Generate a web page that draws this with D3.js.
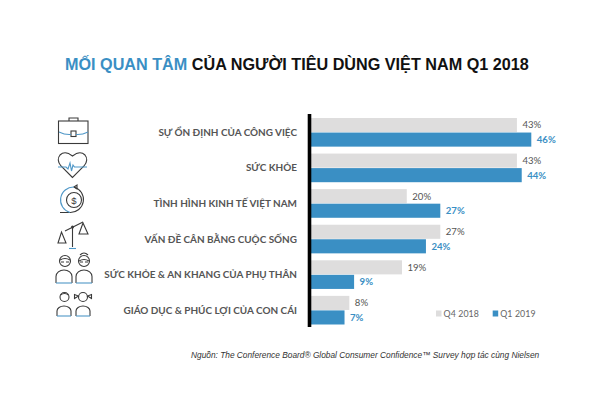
<!DOCTYPE html>
<html><head><meta charset="utf-8">
<script src="https://cdnjs.cloudflare.com/ajax/libs/d3/7.8.5/d3.min.js"></script>
<style>html,body{margin:0;background:#fff}svg{display:block}</style></head>
<body><svg id="c" width="600" height="400"></svg>
<script>
const categories=["SỰ ỔN ĐỊNH CỦA CÔNG VIỆC","SỨC KHỎE","TÌNH HÌNH KINH TẾ VIỆT NAM","VẤN ĐỀ CÂN BẰNG CUỘC SỐNG","SỨC KHỎE & AN KHANG CỦA PHỤ THÂN","GIÁO DỤC & PHÚC LỢI CỦA CON CÁI"];
const q4=[43,43,20,27,19,8];
const q1=[46,44,27,24,9,7];
const seriesNames=["Q4 2018","Q1 2019"];
const grey="#dedddd",blue="#3a8fc4",dark="#3a3a3a";
const svg=d3.select("#c");
const x=d3.scaleLinear().domain([0,46]).range([311,531.3]);
const y=d3.scaleBand().domain(categories).range([118,324.5]).paddingInner(0.195).paddingOuter(0);
const inner=d3.scaleBand().domain(seriesNames).range([0,y.bandwidth()]).paddingInner(0.03);

// title
const t=svg.append("text").attr("x",65).attr("y",70).attr("font-family","Liberation Sans").attr("font-weight",700).attr("font-size",16.2);
t.append("tspan").attr("fill","#3a8fc4").text("MỐI QUAN TÂM");
t.append("tspan").attr("fill","#111").text(" CỦA NGƯỜI TIÊU DÙNG VIỆT NAM Q1 2018");

// bars
categories.forEach((c,i)=>{
  const g=svg.append("g").attr("transform",`translate(0,${y(c)})`);
  [[q4[i],grey,seriesNames[0]],[q1[i],blue,seriesNames[1]]].forEach(([v,col,s])=>{
    g.append("rect").attr("x",x(0)).attr("y",inner(s)).attr("width",x(v)-x(0)).attr("height",inner.bandwidth()).attr("fill",col);
    g.append("text").attr("x",x(v)+5.5).attr("y",inner(s)+inner.bandwidth()/2+3.4)
      .attr("font-family","Lato").attr("font-size",9.6).attr("font-weight",s===seriesNames[1]?700:400)
      .attr("fill",s===seriesNames[1]?blue:"#555").text(v+"%");
  });
  svg.append("text").attr("x",297).attr("y",y(c)+y.bandwidth()/2+3.6).attr("text-anchor","end")
    .attr("font-family","Lato").attr("font-weight",700).attr("font-size",9.95).attr("fill","#555").text(c);
});
// axis line
svg.append("line").attr("x1",309.5).attr("x2",309.5).attr("y1",114).attr("y2",327).attr("stroke","#000").attr("stroke-width",3.6);

// legend
[[436,seriesNames[0],grey],[492.7,seriesNames[1],blue]].forEach(([lx,n,col])=>{
  svg.append("rect").attr("x",lx).attr("y",310.5).attr("width",5.5).attr("height",6).attr("fill",col);
  svg.append("text").attr("x",lx+7.5).attr("y",317).attr("font-family","Lato").attr("font-size",8.8).attr("letter-spacing",0.1).attr("fill","#666").text(n);
});

// source
svg.append("text").attr("x",191).attr("y",358).attr("font-family","Liberation Sans").attr("font-style","italic").attr("font-size",8.34).attr("fill","#333")
  .text("Nguồn: The Conference Board® Global Consumer Confidence™ Survey hợp tác cùng Nielsen");

// icons
const ic=svg.append("g").attr("fill","none").attr("stroke",dark).attr("stroke-width",1.1);
const bl=svg.append("g").attr("fill","none").attr("stroke","#4f97c7").attr("stroke-width",1.1);
// briefcase
ic.append("rect").attr("x",58.5).attr("y",121).attr("width",29.5).attr("height",22.5);
ic.append("path").attr("d","M69 121v-3h9v3");
ic.append("rect").attr("x",71).attr("y",131).attr("width",5).attr("height",5.5);
bl.append("path").attr("d","M59 132q6 3 12 2.5M76 134.5q6 .5 12-2.5");
// heart
ic.append("path").attr("d","M72.5 177.5L61 166Q56 160 60 155Q65 150 72.5 156Q80 150 85 155Q89 160 84 166Z");
bl.append("path").attr("d","M58 167H66L68 169L70 163L71.5 171L73 165L74.5 167H87");
// coin
ic.append("circle").attr("cx",74).attr("cy",200).attr("r",7.5);
bl.append("path").attr("d","M70 212.5A13 13 0 0 1 74 187");
ic.append("path").attr("d","M74 187A13 13 0 0 1 70 212.5H60");
ic.append("path").attr("d","M74 187l3-2v4z");
svg.append("text").attr("x",74).attr("y",203.5).attr("text-anchor","middle").attr("font-family","Liberation Sans").attr("font-size",9.5).attr("fill",dark).text("$");
// scale
ic.append("path").attr("d","M65 231L83 222M72.5 227V247");
ic.append("path").attr("d","M58 243L61.500 232L66 243ZM79 234L83 223L88 234Z");
svg.append("circle").attr("cx",72.5).attr("cy",227).attr("r",1.5).attr("fill",dark);
bl.append("path").attr("d","M69 248.5H76");
// people helper
function person(cx,cy,r,bx,by,bw,bh){
  ic.append("circle").attr("cx",cx).attr("cy",cy).attr("r",r);
  ic.append("path").attr("d",`M${bx} ${by+bh}V${by+bh/2}a${bw/2} ${bh/2} 0 0 1 ${bw} 0V${by+bh}`);
  bl.append("path").attr("d",`M${bx} ${by+bh}H${bx+bw}`);
}
person(65,261,5.5,56,270,16,13);
person(84,261,5.5,76,270,16,13);
ic.append("path").attr("d","M60 260q5-3 10 0M80 255q4-4 8 0M79 261q5-3 10 0M61 262h3M66 262h3M80 262h3M85 262h3");
person(64.5,297,4.5,57,306,14,10);
person(83,297,4.5,76,306,14,10);
ic.append("path").attr("d","M60.500 295q4-3 8 0M78.500 296l-4 2.500v-4zM87.500 296l4 2.500v-4z");
</script></body></html>
